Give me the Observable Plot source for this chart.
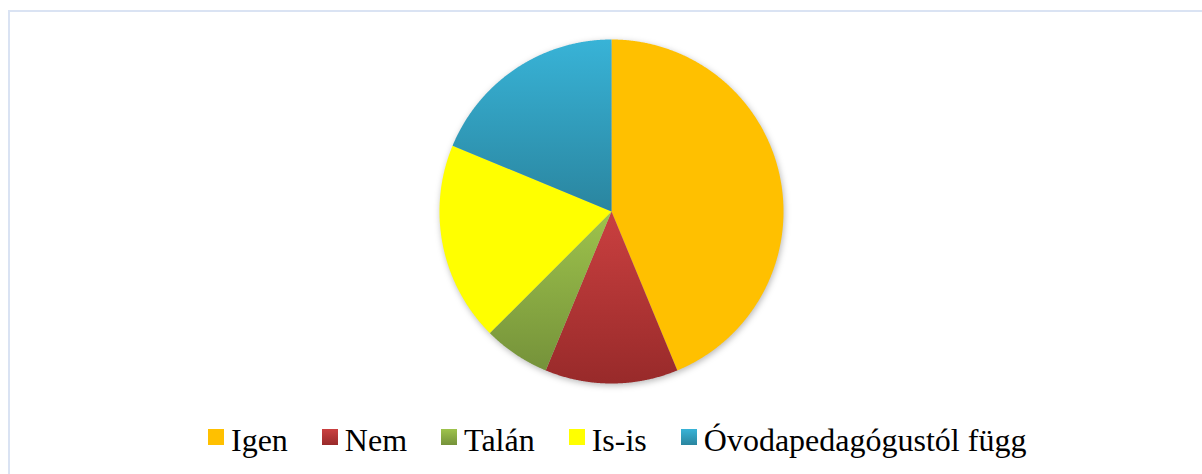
<!DOCTYPE html>
<html lang="hu">
<head>
<meta charset="utf-8">
<script src="https://cdn.jsdelivr.net/npm/d3@7"></script>
<script src="https://cdn.jsdelivr.net/npm/@observablehq/plot@0.6"></script>
<style>
html,body{margin:0;padding:0;background:#fff;width:1202px;height:474px;overflow:hidden;position:relative;}
#chart{position:absolute;left:0;top:0;}
#frame{position:absolute;left:8px;top:10px;width:1300px;height:600px;border-top:2px solid #DAE3F3;border-left:2px solid #DAE3F3;pointer-events:none;}
#legend{position:absolute;left:208px;top:424px;display:flex;align-items:flex-start;font-family:"Liberation Serif","Times New Roman",serif;font-size:32px;line-height:32px;color:#000;white-space:nowrap;}
#legend .item{display:flex;align-items:flex-start;margin-right:34px;}
#legend .item:last-child{margin-right:0;}
#legend .sw{width:16px;height:16px;margin-top:5px;margin-right:7px;}
</style>
</head>
<body>
<div id="chart"></div>
<div id="legend"></div>
<div id="frame"></div>
<script>
// Data
const categories = ["Igen", "Nem", "Talán", "Is-is", "Óvodapedagógustól függ"];
const values = [14, 4, 2, 6, 6];

// Styles (gradient top / bottom colours per category)
const gradTop = ["#FFC000", "#CA4040", "#9EC34C", "#FFFF00", "#38B3D7"];
const gradBottom = ["#FFC000", "#982A2A", "#75923A", "#FFFF00", "#2A859F"];

const data = categories.map((c, i) => ({category: c, value: values[i]}));
const arcs = d3.pie().sort(null).value(d => d.value)(data);

const features = arcs.map(a => {
  const n = Math.max(2, Math.ceil((a.endAngle - a.startAngle) / 0.005));
  const ring = [[0, 0]];
  for (let i = 0; i <= n; i++) {
    const t = a.startAngle + (a.endAngle - a.startAngle) * i / n;
    ring.push([Math.sin(t), Math.cos(t)]);
  }
  ring.push([0, 0]);
  return {type: "Feature", properties: {category: a.data.category}, geometry: {type: "Polygon", coordinates: [ring]}};
});

const gradIds = categories.map((c, i) => "grad-" + i);

const svg = Plot.plot({
  width: 1202,
  height: 410,
  marginLeft: 439,
  marginRight: 419,
  marginTop: 39,
  marginBottom: 27,
  style: {background: "transparent"},
  projection: {
    type: "reflect-y",
    domain: {type: "Polygon", coordinates: [[[-1, -1], [1, -1], [1, 1], [-1, 1], [-1, -1]]]}
  },
  color: {type: "ordinal", domain: categories, range: gradIds.map(id => `url(#${id})`)},
  marks: [
    Plot.geo(features, {fill: d => d.properties.category, stroke: "none"})
  ]
});

const defs = d3.select(svg).insert("defs", ":first-child");
gradIds.forEach((id, i) => {
  const g = defs.append("linearGradient").attr("id", id)
    .attr("x1", 0).attr("y1", 0).attr("x2", 0).attr("y2", 1);
  g.append("stop").attr("offset", "0%").attr("stop-color", gradTop[i]);
  g.append("stop").attr("offset", "100%").attr("stop-color", gradBottom[i]);
});
d3.select(svg).select('g[aria-label="geo"]').style("filter", "drop-shadow(1px 2px 3px rgba(0,0,0,0.28))");

document.getElementById("chart").appendChild(svg);

const legend = d3.select("#legend");
categories.forEach((c, i) => {
  const item = legend.append("div").attr("class", "item");
  item.append("div").attr("class", "sw")
    .style("background", `linear-gradient(to bottom, ${gradTop[i]}, ${gradBottom[i]})`);
  item.append("span").text(c);
});
</script>
</body>
</html>
